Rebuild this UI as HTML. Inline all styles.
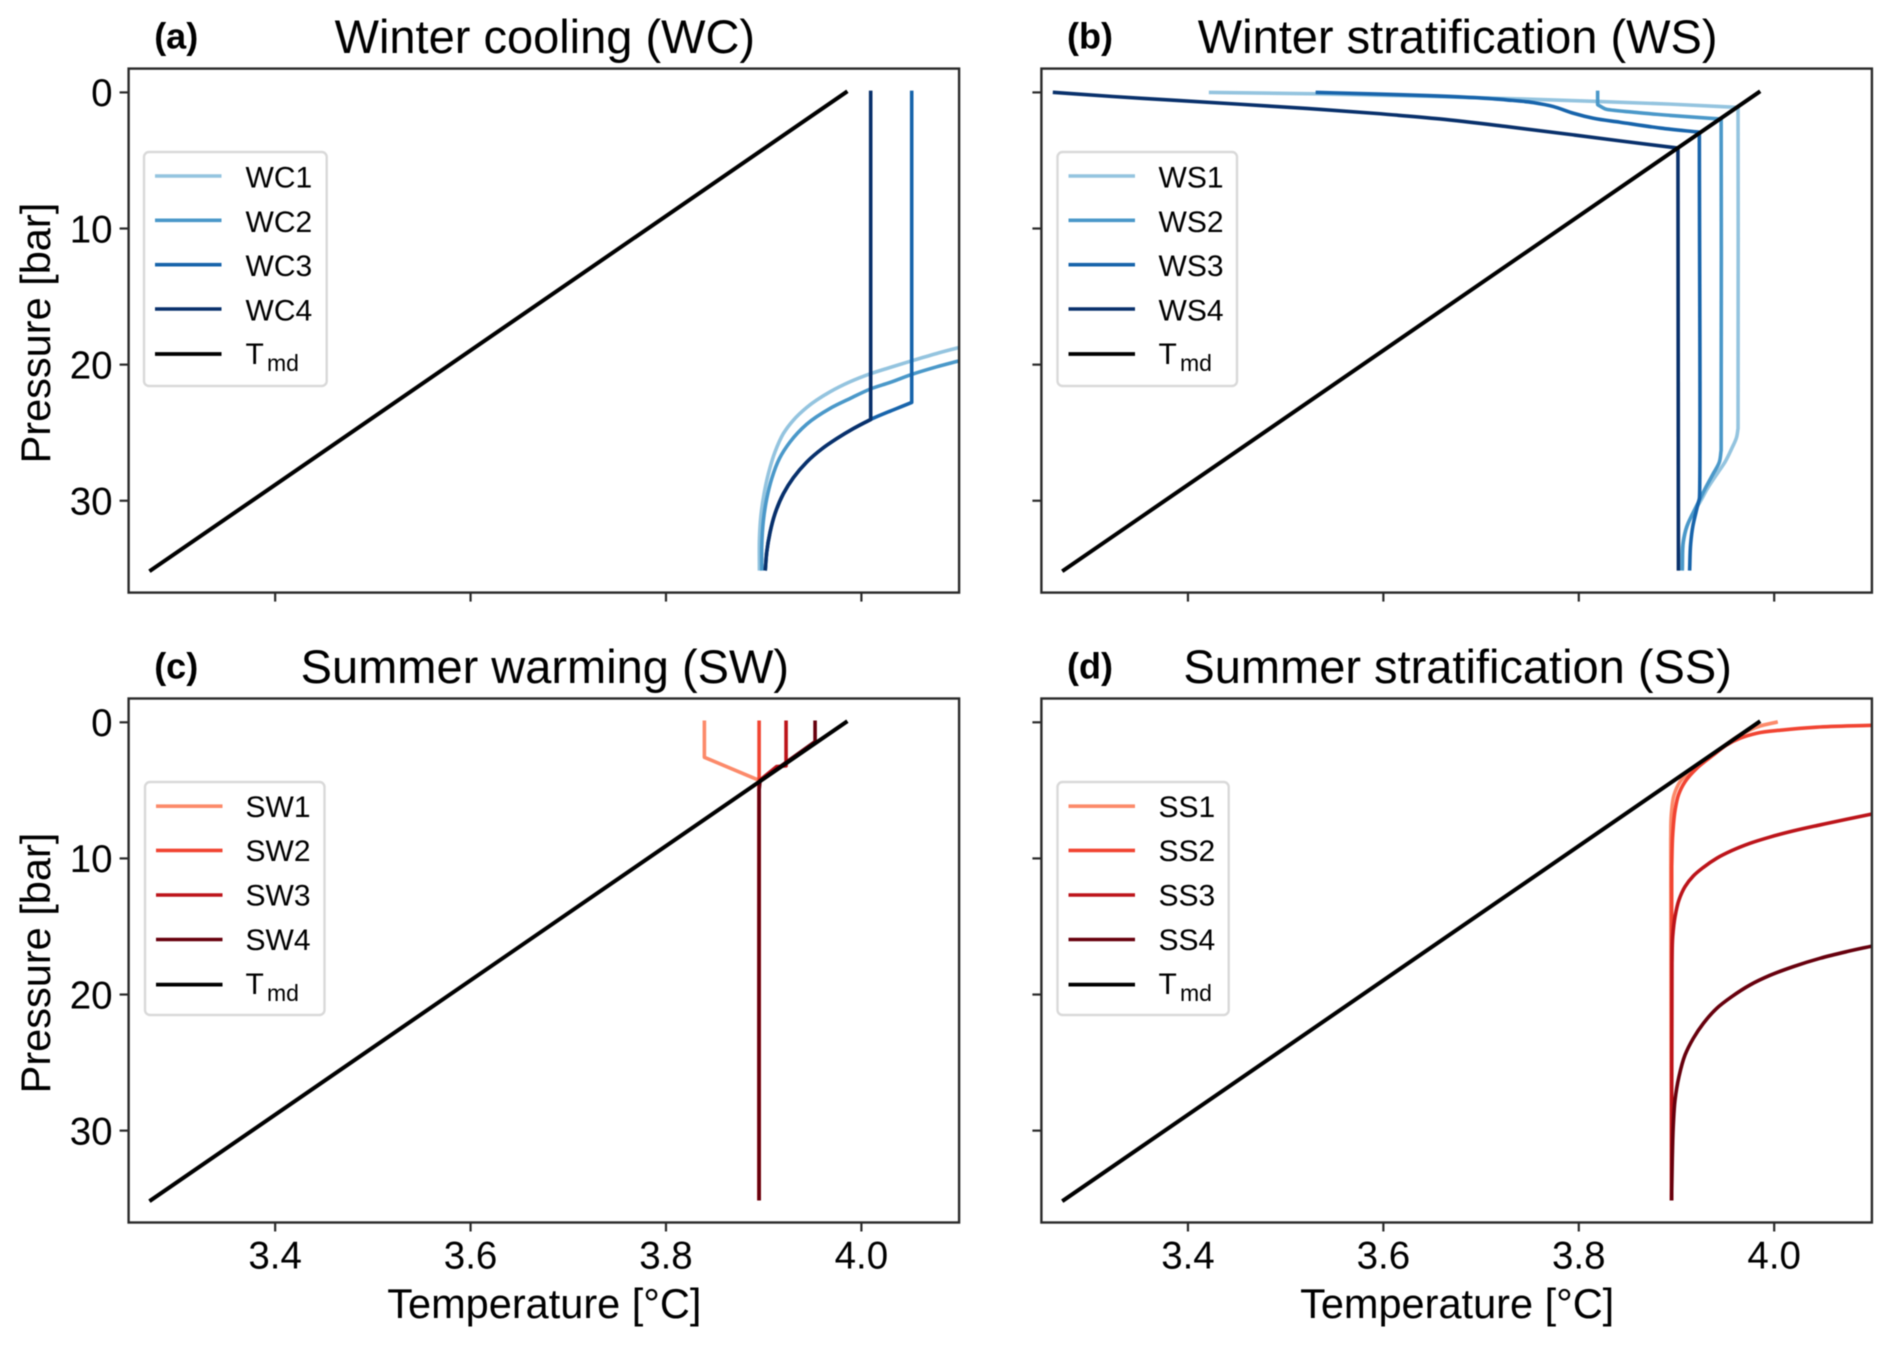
<!DOCTYPE html>
<html lang="en">
<head>
<meta charset="utf-8">
<title>Temperature profiles</title>
<style>
html,body{margin:0;padding:0;background:#fff;}
svg{display:block;font-family:"Liberation Sans",Arial,sans-serif;fill:#000;filter:blur(0.5px);}
</style>
</head>
<body>
<svg id="figure" xmlns="http://www.w3.org/2000/svg" width="1892" height="1346" viewBox="0 0 1892 1346"></svg>
<script>
// ---- shared axis data ----
const xTicks = [3.4, 3.6, 3.8, 4.0];
const xTickLabels = ['3.4', '3.6', '3.8', '4.0'];
const yTicks = [0, 10, 20, 30];
const yTickLabels = ['0', '10', '20', '30'];
const tmdT = [3.984, 3.273];
const tmdP = [0, 35.1];

// ---- panel (a) winter cooling ----
const wc1T = [4.10,4.0771,4.0515,4.0293,4.0072,3.9884,3.9679,3.9440,3.9304,3.9202,3.9116,3.9048,3.9004,3.8970,3.8956,3.8956];
const wc1P = [18.74,19.18,19.72,20.21,20.72,21.26,22.00,23.15,24.08,25.06,26.41,28.01,29.48,31.20,32.90,35];
const wc2T = [4.10,4.0771,4.0515,4.0293,4.0089,3.9884,3.9679,3.9440,3.9270,3.9161,3.9082,3.9031,3.8997,3.8980,3.8980];
const wc2P = [19.72,20.16,20.72,21.31,21.80,22.49,23.22,24.38,25.68,26.90,28.38,29.85,31.44,33.40,35];
const wc3T = [4.0515,4.0515,4.0095,3.9918,3.9747,3.9594,3.9440,3.9304,3.9202,3.9116,3.9065,3.9031,3.9017];
const wc3P = [0,22.78,24.03,24.70,25.44,26.20,27.16,28.31,29.48,30.94,32.32,33.78,35];
const wc4T = [4.0095,4.0095,3.9918,3.9747,3.9594,3.9440,3.9304,3.9202,3.9116,3.9065,3.9031,3.9017];
const wc4P = [0,24.03,24.70,25.44,26.20,27.16,28.31,29.48,30.94,32.32,33.78,35];

// ---- panel (b) winter stratification ----
const ws1T = [3.4232,3.5314,3.6455,3.7447,3.8191,3.8936,3.9630,3.9630,3.9616,3.9565,3.9497,3.9429,3.9316,3.9241,3.9156,3.9094,3.9060,3.9053];
const ws1P = [0,0.10,0.29,0.49,0.66,0.86,1.10,24.69,25.31,26.17,27.15,27.88,29.11,30.09,31.07,32.17,33.40,35];
const ws2T = [3.8193,3.8193,3.8266,3.8588,3.8936,3.9457,3.9457,3.9439,3.9377,3.9302,3.9234,3.9166,3.9104,3.9070,3.9060];
const ws2P = [0,0.90,1.20,1.47,1.69,1.96,26.29,27.15,28.00,28.99,29.97,30.95,31.93,33.03,35];
const ws3T = [3.5325,3.5898,3.6444,3.6921,3.7262,3.7535,3.7740,3.7945,3.8150,3.8422,3.8836,3.9234,3.9234,3.9200,3.9166,3.9145,3.9135];
const ws3P = [0,0.11,0.23,0.38,0.55,0.75,1.04,1.53,1.90,2.19,2.62,2.92,29.85,30.83,31.93,33.16,35];
const ws4T = [3.2635,3.3230,3.4533,3.5215,3.5898,3.6580,3.7262,3.7945,3.8422,3.9015,3.9020];
const ws4P = [0,0.30,0.87,1.18,1.53,1.95,2.51,3.12,3.56,4.09,35];

// ---- panel (c) summer warming ----
const sw1T = [3.8393,3.8393,3.8946,3.8953,3.8953];
const sw1P = [0,2.57,4.24,4.48,35];
const sw2T = [3.8953,3.8953,3.8953];
const sw2P = [0,4.30,35];
const sw3T = [3.9229,3.9229,3.9133,3.8963,3.8953,3.8953];
const sw3P = [0,3.20,3.25,4.24,4.70,35];
const sw4T = [3.9526,3.9526,3.8963,3.8953,3.8953];
const sw4P = [0,1.42,4.30,5.00,35];

// ---- panel (d) summer stratification ----
const ss1T = [4.0019,3.9856,3.9651,3.9412,3.9173,3.9037,3.8975,3.8948,3.8941,3.8950];
const ss1P = [0,0.27,0.93,2.15,3.38,4.36,5.34,6.69,8.65,35];
const ss2T = [4.10,4.0436,4.0094,3.9822,3.9651,3.9514,3.9378,3.9207,3.9088,3.9020,3.8986,3.8962,3.8951,3.8950];
const ss2P = [0.22,0.36,0.56,0.80,1.17,1.66,2.40,3.38,4.36,5.34,6.44,8.16,10.6,35];
const ss3T = [4.10,4.0742,4.0469,4.0196,3.9957,3.9752,3.9565,3.9411,3.9275,3.9172,3.9087,3.9025,3.8985,3.8961,3.8954,3.8950];
const ss3P = [6.74,7.12,7.54,7.98,8.43,8.89,9.43,9.99,10.66,11.29,12.08,13.06,14.28,15.75,17.70,35];
const ss4T = [4.10,4.0742,4.0469,4.0196,3.9957,3.9752,3.9565,3.9411,3.9275,3.9172,3.9087,3.9025,3.8985,3.8968,3.8957,3.8950];
const ss4P = [16.44,16.85,17.34,17.95,18.59,19.30,20.16,21.02,22.12,23.22,24.45,26.04,27.75,29.50,32.00,35];

const xMin = 3.25, xMax = 4.10, yTop = -1.75, yBottom = 36.75;
const plotW = 830.5, plotH = 524;

const panels = [
  {id:'a', left:128.6, top:68.6, letter:'(a)', title:'Winter cooling (WC)', xLabels:false, yLabels:true,
   legend:{x:144, w:182.7, y:152, h:234, tdx:0, tdy:0, rows:[24,68.3,112.7,157,202]},
   series:[['WC1',wc1T,wc1P,'#94c4df'],['WC2',wc2T,wc2P,'#4a98c9'],['WC3',wc3T,wc3P,'#1764ab'],['WC4',wc4T,wc4P,'#08306b']]},
  {id:'b', left:1041.4, top:68.6, letter:'(b)', title:'Winter stratification (WS)', xLabels:false, yLabels:false,
   legend:{x:1057.5, w:179.5, y:152, h:234, tdx:-0.5, tdy:0, rows:[24,68.3,112.7,157,202]},
   series:[['WS1',ws1T,ws1P,'#94c4df'],['WS2',ws2T,ws2P,'#4a98c9'],['WS3',ws3T,ws3P,'#1764ab'],['WS4',ws4T,ws4P,'#08306b']]},
  {id:'c', left:128.6, top:698.5, letter:'(c)', title:'Summer warming (SW)', xLabels:true, yLabels:true,
   legend:{x:145, w:179.5, y:782, h:233, tdx:-1, tdy:-0.8, rows:[24.2,68.4,113,157.5,202.6]},
   series:[['SW1',sw1T,sw1P,'#fc8a6a'],['SW2',sw2T,sw2P,'#f14432'],['SW3',sw3T,sw3P,'#bc141a'],['SW4',sw4T,sw4P,'#67000d']]},
  {id:'d', left:1041.4, top:698.5, letter:'(d)', title:'Summer stratification (SS)', xLabels:true, yLabels:false,
   legend:{x:1057.5, w:171.2, y:782, h:233, tdx:-0.5, tdy:-0.8, rows:[24.2,68.4,113,157.5,202.6]},
   series:[['SS1',ss1T,ss1P,'#fc8a6a'],['SS2',ss2T,ss2P,'#f14432'],['SS3',ss3T,ss3P,'#bc141a'],['SS4',ss4T,ss4P,'#67000d']]}
];

const NS = 'http://www.w3.org/2000/svg';
const fig = document.getElementById('figure');
const defs = document.createElementNS(NS, 'defs');
fig.appendChild(defs);

function mk(parent, tag, attrs, name, interactable) {
  const el = document.createElementNS(NS, tag);
  for (const k in attrs) el.setAttribute(k, attrs[k]);
  
  
  parent.appendChild(el);
  return el;
}
function txt(parent, attrs, str, name) {
  const el = mk(parent, 'text', attrs, name, false);
  el.textContent = str;
  return el;
}
function xScale(p, t) { return p.left + (t - xMin) / (xMax - xMin) * plotW; }
function yScale(p, v) { return p.top + (v - yTop) / (yBottom - yTop) * plotH; }

// Smooth path through the scaled points, keeping sharp corners sharp.
function linePath(p, ts, ps) {
  const pts = ts.map(function (t, i) { return [xScale(p, t), yScale(p, ps[i])]; });
  const n = pts.length;
  const seg = [], len = [];
  for (let i = 0; i < n - 1; i++) {
    const dx = pts[i + 1][0] - pts[i][0], dy = pts[i + 1][1] - pts[i][1];
    const d = Math.hypot(dx, dy) || 1e-6;
    seg.push([dx / d, dy / d]);
    len.push(d);
  }
  const tan = [];
  for (let i = 0; i < n; i++) {
    if (i === 0 || i === n - 1) { tan.push(null); continue; }
    const a = seg[i - 1], b = seg[i];
    if (a[0] * b[0] + a[1] * b[1] < 0.86) { tan.push(null); continue; }
    const tx = a[0] * len[i] + b[0] * len[i - 1], ty = a[1] * len[i] + b[1] * len[i - 1];
    const m = Math.hypot(tx, ty) || 1e-6;
    tan.push([tx / m, ty / m]);
  }
  let d = 'M' + pts[0][0].toFixed(2) + ' ' + pts[0][1].toFixed(2);
  for (let i = 0; i < n - 1; i++) {
    const t0 = tan[i] || seg[i], t1 = tan[i + 1] || seg[i];
    const h0 = tan[i] ? Math.min(len[i] / 3, 0.5 * Math.min(len[i - 1], len[i])) : len[i] / 3;
    const h1 = tan[i + 1] ? Math.min(len[i] / 3, 0.5 * Math.min(len[i], len[i + 1])) : len[i] / 3;
    d += ' C' + (pts[i][0] + t0[0] * h0).toFixed(2) + ' ' + (pts[i][1] + t0[1] * h0).toFixed(2) +
         ' ' + (pts[i + 1][0] - t1[0] * h1).toFixed(2) + ' ' + (pts[i + 1][1] - t1[1] * h1).toFixed(2) +
         ' ' + pts[i + 1][0].toFixed(2) + ' ' + pts[i + 1][1].toFixed(2);
  }
  return d;
}

panels.forEach(function (p) {
  const g = mk(fig, 'g', {}, 'panel-' + p.id, false);
  const bottom = p.top + plotH, right = p.left + plotW, cx = p.left + plotW / 2;

  const clip = document.createElementNS(NS, 'clipPath');
  clip.setAttribute('id', 'clip-' + p.id);
  const cr = document.createElementNS(NS, 'rect');
  cr.setAttribute('x', p.left); cr.setAttribute('y', p.top);
  cr.setAttribute('width', plotW); cr.setAttribute('height', plotH);
  clip.appendChild(cr);
  defs.appendChild(clip);

  // titles
  txt(g, {x:cx + 1, y:p.top - 15.5, 'font-size':47, 'text-anchor':'middle'}, p.title, 'panel-title');
  txt(g, {x:p.left + 25.6, y:p.top - 20, 'font-size':36, 'font-weight':'bold'}, p.letter, 'panel-letter');

  // series, clipped to the axes
  const plot = mk(g, 'g', {'clip-path':'url(#clip-' + p.id + ')'}, 'plot-area', false);
  p.series.forEach(function (s) {
    mk(plot, 'path', {d:linePath(p, s[1], s[2]), fill:'none', stroke:s[3], 'stroke-width':3.6,
      'stroke-linejoin':'round', 'stroke-linecap':'square'}, 'line-' + s[0].toLowerCase(), false);
  });
  mk(plot, 'path', {d:linePath(p, tmdT, tmdP), fill:'none', stroke:'#000', 'stroke-width':4,
    'stroke-linecap':'square'}, 'line-tmd', false);

  // spines
  mk(g, 'rect', {x:p.left, y:p.top, width:plotW, height:plotH, fill:'none', stroke:'#2a2a2a', 'stroke-width':2.4}, 'axes-frame', false);

  // x ticks
  xTicks.forEach(function (t, i) {
    const x = xScale(p, t);
    mk(g, 'line', {x1:x, x2:x, y1:bottom, y2:bottom + 9, stroke:'#2a2a2a', 'stroke-width':2.2}, 'x-tick', false);
    if (p.xLabels) txt(g, {x:x, y:bottom + 46, 'font-size':38.5, 'text-anchor':'middle'}, xTickLabels[i], 'x-tick-label');
  });
  // y ticks
  yTicks.forEach(function (v, i) {
    const y = yScale(p, v);
    mk(g, 'line', {x1:p.left - 9, x2:p.left, y1:y, y2:y, stroke:'#2a2a2a', 'stroke-width':2.2}, 'y-tick', false);
    if (p.yLabels) txt(g, {x:p.left - 16, y:y + 13.8, 'font-size':38.5, 'text-anchor':'end'}, yTickLabels[i], 'y-tick-label');
  });
  // axis titles
  if (p.xLabels) txt(g, {x:cx + 0.5, y:bottom + 95.5, 'font-size':41.5, 'text-anchor':'middle'}, 'Temperature [°C]', 'x-axis-title');
  if (p.yLabels) {
    const yc = p.top + 264.5, xc = 50;
    txt(g, {x:xc, y:yc, 'font-size':41.5, 'text-anchor':'middle', transform:'rotate(-90 ' + xc + ' ' + yc + ')'}, 'Pressure [bar]', 'y-axis-title');
  }

  // legend
  const L = p.legend;
  const lg = mk(g, 'g', {}, 'legend', false);
  mk(lg, 'rect', {x:L.x, y:L.y, width:L.w, height:L.h, rx:5, ry:5, fill:'#fff', 'fill-opacity':0.85, stroke:'#d9d9d9', 'stroke-width':2.4}, 'legend-frame', false);
  const lx1 = L.x + 11, lx2 = L.x + 77.5, tx = L.x + 101.5 + L.tdx;
  p.series.forEach(function (s, i) {
    const y = L.y + L.rows[i];
    const e = mk(lg, 'g', {}, 'legend-entry', false);
    mk(e, 'line', {x1:lx1, x2:lx2, y1:y, y2:y, stroke:s[3], 'stroke-width':3.6}, 'legend-swatch', false);
    txt(e, {x:tx, y:y + 11.5 + L.tdy, 'font-size':30}, s[0], 'legend-label');
  });
  const y5 = L.y + L.rows[4];
  const e5 = mk(lg, 'g', {}, 'legend-entry', false);
  mk(e5, 'line', {x1:lx1, x2:lx2, y1:y5, y2:y5, stroke:'#000', 'stroke-width':3.8}, 'legend-swatch', false);
  txt(e5, {x:tx, y:y5 + 10 + L.tdy, 'font-size':30}, 'T', 'legend-label');
  txt(e5, {x:tx + 21.5, y:y5 + 17 + L.tdy, 'font-size':23}, 'md', 'legend-label-subscript');
});
</script>
</body>
</html>
